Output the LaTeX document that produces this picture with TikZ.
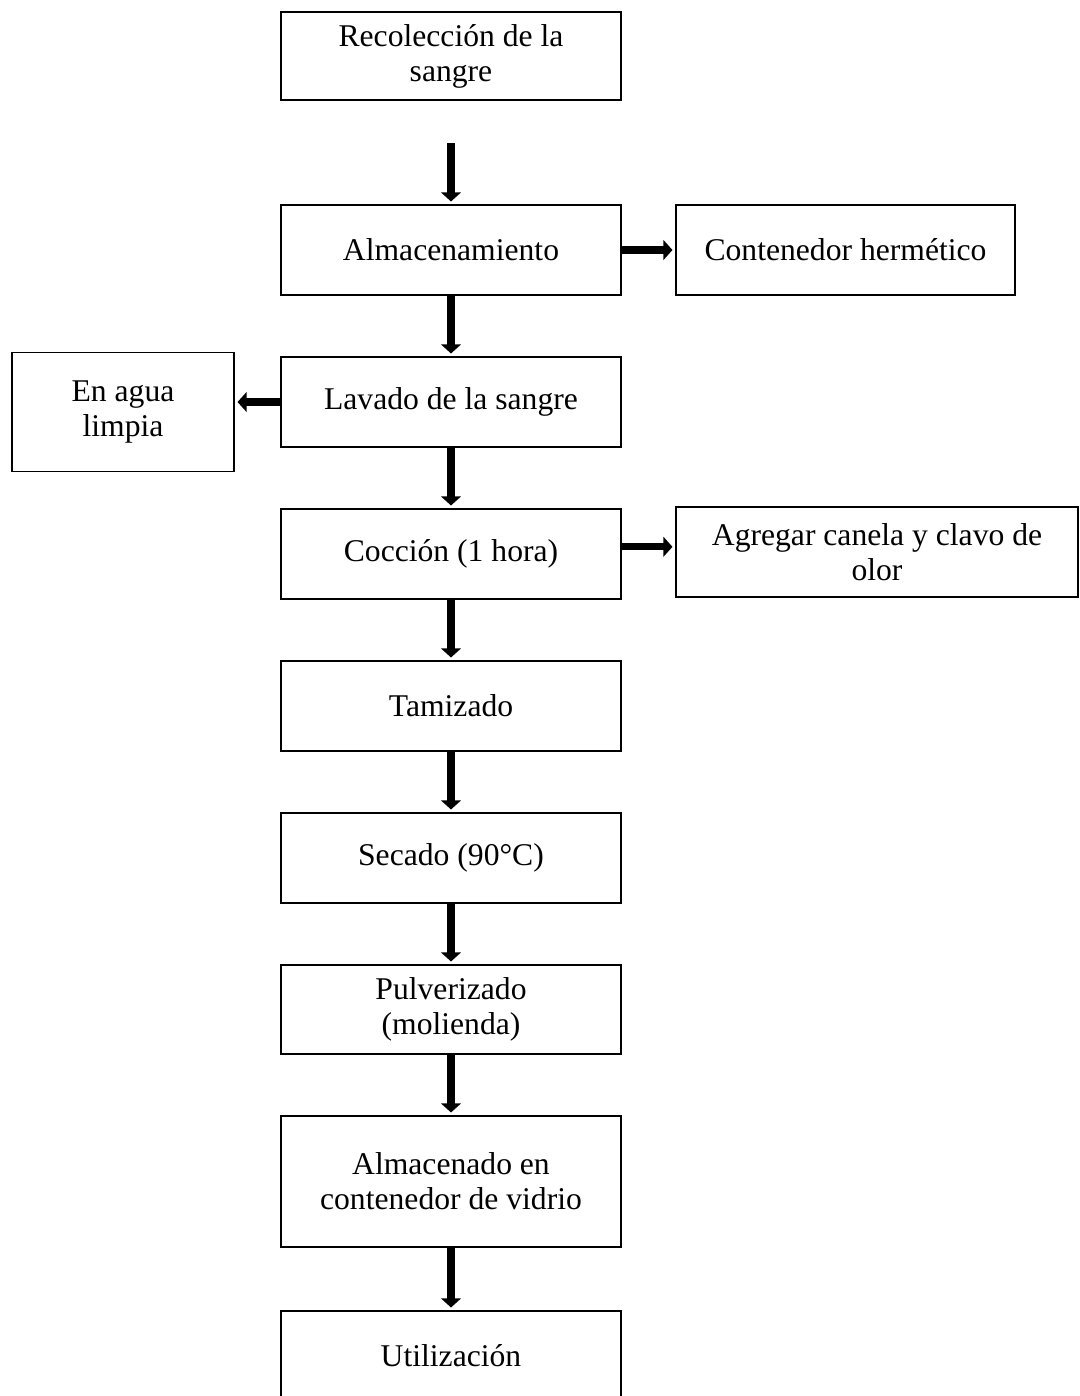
\documentclass[tikz,border=0pt]{standalone}
\usepackage{fontspec}
\setmainfont{Liberation Serif}
\usetikzlibrary{arrows.meta,positioning}
\tikzset{
  stepbox/.style={rectangle, draw=black, line width=1.3pt, fill=white,
                  align=center, font=\fontsize{22.5}{25}\selectfont,
                  inner sep=2pt, outer sep=0pt,
                  minimum width=8.5cm, minimum height=2.25cm},
  sidebox/.style={stepbox},
  arrbold/.style={-{Triangle[length=6.5pt,width=14pt]}, line width=5pt,
                  shorten >=2.5pt},
}
\begin{document}
\begin{tikzpicture}[node distance=1.55cm]
  \clip (0,0) rectangle (27,-34.9);
  \node[stepbox, minimum height=2.2cm] (rec) at (11.275,-1.4) {Recolección de la\\sangre};
  \node[stepbox, below=2.625cm of rec] (alm) {Almacenamiento};
  \node[sidebox, minimum width=8.475cm, right=1.375cm of alm] (cont) {Contenedor hermético};
  \node[stepbox, below=of alm] (lav) {Lavado de la sangre};
  \node[sidebox, minimum width=5.55cm, minimum height=2.975cm,
        left=1.175cm of lav, yshift=-0.25cm] (agua) {En agua\\limpia};
  \node[stepbox, below=of lav] (coc) {Cocción (1 hora)};
  \node[sidebox, minimum width=10.05cm, right=1.375cm of coc, yshift=0.05cm] (agr)
       {Agregar canela y clavo de\\olor};
  \node[stepbox, below=of coc] (tam) {Tamizado};
  \node[stepbox, below=of tam] (sec) {Secado (90°C)};
  \node[stepbox, minimum height=2.225cm, below=of sec] (pul) {Pulverizado\\(molienda)};
  \node[stepbox, minimum height=3.275cm, below=of pul] (vid) {Almacenado en\\contenedor de vidrio};
  \node[stepbox, below=1.6cm of vid] (uti) {Utilización};
  % flechas principales
  \draw[arrbold, shorten <=1.075cm] (rec) -- (alm);
  \draw[arrbold] (alm) -- (lav);
  \draw[arrbold] (lav) -- (coc);
  \draw[arrbold] (coc) -- (tam);
  \draw[arrbold] (tam) -- (sec);
  \draw[arrbold] (sec) -- (pul);
  \draw[arrbold] (pul) -- (vid);
  \draw[arrbold] (vid) -- (uti);
  % flechas laterales
  \draw[arrbold] (alm) -- (cont);
  \draw[arrbold] (lav.west) -- (lav.west -| agua.east);
  \draw[arrbold] ([yshift=0.18cm]coc.east) -- ([yshift=0.18cm]coc.east -| agr.west);
\end{tikzpicture}
\end{document}
